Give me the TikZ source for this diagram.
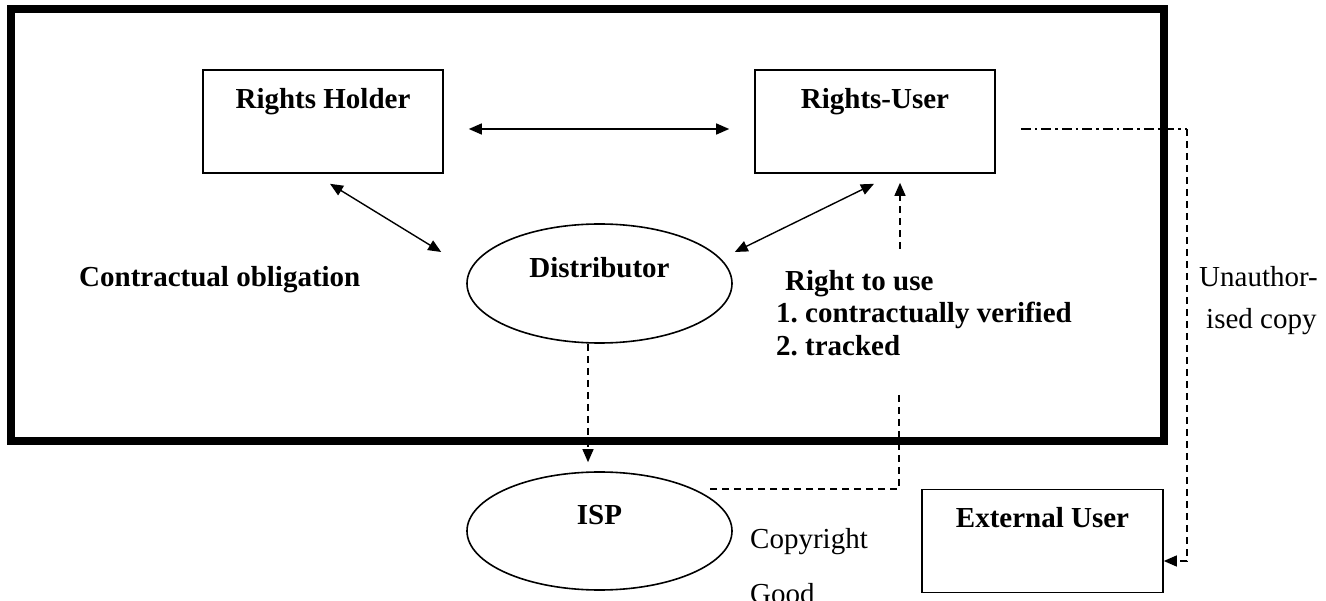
\documentclass[tikz,border=0pt]{standalone}
\usepackage{fontspec}
\setmainfont{Liberation Serif}
\usetikzlibrary{arrows.meta,calc,shapes.geometric}
\begin{document}
\begin{tikzpicture}[x=1pt,y=-1pt,
  box/.style={draw, line width=1.6pt, minimum width=240pt, minimum height=103pt, inner sep=0pt,
    font=\bfseries\fontsize{29}{34}\selectfont, text height=20pt, text depth=45pt},
  ell/.style={draw, ellipse, line width=1.6pt, minimum width=265pt, minimum height=119pt, inner sep=0pt,
    font=\bfseries\fontsize{29}{34}\selectfont},
  lbl/.style={font=\bfseries\fontsize{29}{34}\selectfont, inner sep=0pt, anchor=base west},
  plainlbl/.style={font=\fontsize{29}{34}\selectfont, inner sep=0pt, anchor=base west},
  dbl/.style={line width=1.4pt, {Triangle[length=13pt,width=11pt]}-{Triangle[length=13pt,width=11pt]}},
  one/.style={-{Triangle[length=13pt,width=11pt]}},
  dsh/.style={line width=1.3pt, dash pattern=on 7pt off 5pt},
  dshdot/.style={line width=1.3pt, dash pattern=on 10pt off 4pt on 2.5pt off 4pt},
]
\useasboundingbox (0,0) rectangle (1326,601);

% outer frame
\draw[line width=8pt] (11,9) rectangle (1164,441);

% nodes
\node[box] (RH) at (323,121.5) {Rights Holder};
\node[box] (RU) at (875,121.5) {Rights-User};
\node[ell, text height=20pt, text depth=31pt] (Dist) at (599.5,283.5) {Distributor};
\node[ell, minimum height=118pt, text height=20pt, text depth=32pt] (ISP) at (599.5,531) {ISP};
\node[box, minimum width=241pt, text depth=48pt] (EU) at (1042.5,541) {External User};

% labels
\node[lbl] (co) at (79,287) {Contractual obligation};
\node[lbl] (rtu) at (785,291) {Right to use};
\node[lbl] (cv) at (776,323) {1.\ contractually verified};
\node[lbl] (tr) at (776,356) {2.\ tracked};
\node[plainlbl] (ua) at (1199,287) {Unauthor-};
\node[plainlbl] (ic) at (1206,329) {ised copy};
\node[plainlbl] (cr) at (750,548) {Copyright};
\node[plainlbl] (gd) at (750,603) {Good};

% connectors
\draw[dbl, shorten <=25pt, shorten >=25pt] ([yshift=-7.5pt]RH.east) -- ([yshift=-7.5pt]RU.west);
\draw[dbl] ($(RH.south)+(7,10)$) -- ($(Dist.west)+(-25,-31.5)$);
\draw[dbl] ($(Dist.east)+(2,-31.5)$) -- ($(RU.south)+(-1,10)$);
\draw[dsh, one] ($(RU.south)+(25,75)$) -- ($(RU.south)+(25,9)$);
\draw[dsh] ($(RU.south)+(24,221)$) |- ($(ISP.center)+(107.5,-42)$);
\draw[dsh, one] ($(Dist.south)+(-11.5,0)$) -- ($(ISP.north)+(-11.5,-9)$);
\coordinate (corner) at (1187,129);
\draw[dshdot] ($(RU.east)+(25,7.5)$) -- (corner);
\draw[dsh, one] (corner) |- ($(EU.east)+(0,20)$);
\end{tikzpicture}
\end{document}
